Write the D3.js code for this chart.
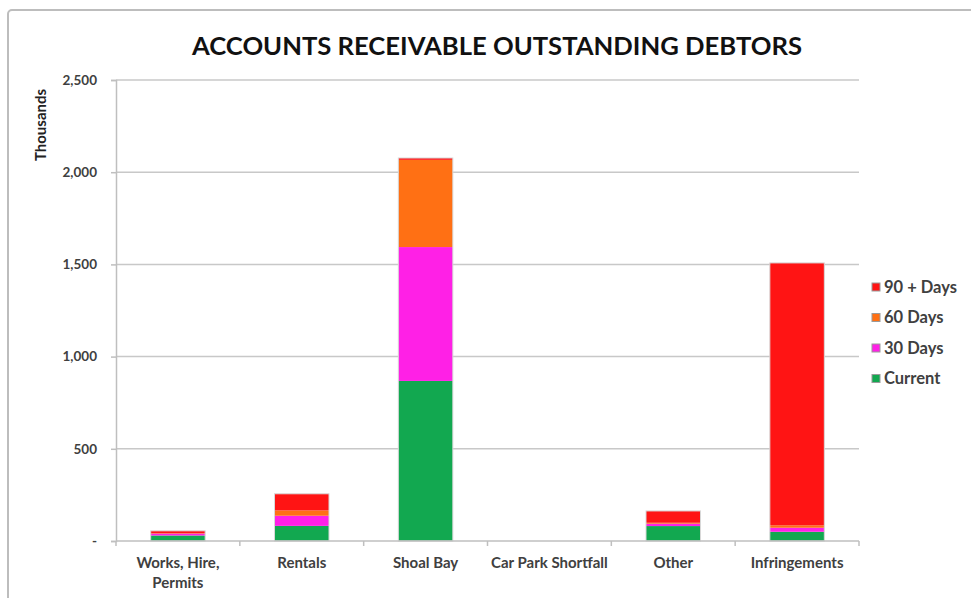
<!DOCTYPE html>
<html><head><meta charset="utf-8">
<script src="https://cdn.jsdelivr.net/npm/d3@7"></script>
<style>body{margin:0;background:#fff}svg{display:block}</style>
</head><body>
<svg id="c" width="971" height="598"></svg>
<script>
const categories = ["Works, Hire, Permits", "Rentals", "Shoal Bay", "Car Park Shortfall", "Other", "Infringements"];
const seriesNames = ["Current", "30 Days", "60 Days", "90 + Days"];
const current  = [30, 82, 868, 0, 81, 50];
const days30   = [10, 55, 726, 0, 13, 22];
const days60   = [2, 29, 473, 0, 5, 13];
const days90   = [13, 90, 10, 0, 64, 1423];
const yTicks = [0, 500, 1000, 1500, 2000, 2500];
const colors = ["#12a850", "#ff20e6", "#ff7014", "#ff1414"];
const legendColors = ["#12a850", "#ff20e6", "#ff7014", "#ff1414"];

const svg = d3.select("#c");
const FONT = "Lato, 'Open Sans', sans-serif";
// chart border
svg.append("rect").attr("x", 8).attr("y", 10).attr("width", 980).attr("height", 600)
  .attr("rx", 4).attr("fill", "none").attr("stroke", "#bdbdbd").attr("stroke-width", 2);

const m = {left: 116, right: 859, top: 80, bottom: 541};
const x = d3.scaleBand().domain(categories).range([m.left, m.right]).paddingInner(0.56).paddingOuter(0.28);
const xAxisScale = d3.scaleBand().domain(categories).range([m.left, m.right]);
const y = d3.scaleLinear().domain([0, 2500]).range([m.bottom, m.top]);

// gridlines
svg.append("g").selectAll("line").data(yTicks.slice(1)).join("line")
  .attr("x1", m.left).attr("x2", m.right).attr("y1", d => y(d)).attr("y2", d => y(d))
  .attr("stroke", "#c8c8c8").attr("stroke-width", 1.5);

// stacked bars
const rows = categories.map((c, i) => ({cat: c, "Current": current[i], "30 Days": days30[i], "60 Days": days60[i], "90 + Days": days90[i]}));
const stack = d3.stack().keys(seriesNames)(rows);
svg.append("g").selectAll("g").data(stack).join("g")
  .attr("fill", (d, i) => colors[i])
  .selectAll("rect").data(d => d).join("rect")
  .attr("x", d => x(d.data.cat)).attr("width", x.bandwidth())
  .attr("y", d => y(d[1])).attr("height", d => Math.max(0, y(d[0]) - y(d[1])));

// bar outlines
const total = r => r.Current + r["30 Days"] + r["60 Days"] + r["90 + Days"];
svg.append("g").selectAll("rect").data(rows.filter(r => total(r) > 0)).join("rect")
  .attr("x", d => x(d.cat)).attr("width", x.bandwidth())
  .attr("y", d => y(total(d))).attr("height", d => m.bottom - y(total(d)))
  .attr("fill", "none").attr("stroke", "#d8d8d8").attr("stroke-width", 1);

// y axis
const yAxis = d3.axisLeft(y).tickValues(yTicks).tickSize(5).tickPadding(14)
  .tickFormat(d => d === 0 ? "-" : d3.format(",")(d));
const gy = svg.append("g").attr("transform", `translate(${m.left},0)`).call(yAxis);
gy.select(".domain").attr("stroke", "#bfbfbf").attr("stroke-width", 1.5);
gy.selectAll(".tick line").attr("stroke", "#bfbfbf").attr("stroke-width", 1.5);
gy.selectAll(".tick text").attr("font-family", FONT).attr("font-size", 13.5)
  .attr("font-weight", "bold").attr("fill", "#404040");

// x axis
const gx = svg.append("g").attr("transform", `translate(0,${m.bottom})`);
gx.append("line").attr("x1", m.left).attr("x2", m.right).attr("stroke", "#bfbfbf").attr("stroke-width", 1.5);
const xTickPos = categories.map(c => xAxisScale(c)).concat([m.right]);
gx.selectAll("line.t").data(xTickPos).join("line").attr("class", "t")
  .attr("x1", d => d).attr("x2", d => d).attr("y1", 0).attr("y2", 5)
  .attr("stroke", "#bfbfbf").attr("stroke-width", 1.5);
const labelLines = [["Works, Hire,", "Permits"], ["Rentals"], ["Shoal Bay"], ["Car Park Shortfall"], ["Other"], ["Infringements"]];
gx.selectAll("text.cat").data(categories).join("text").attr("class", "cat")
  .attr("x", d => xAxisScale(d) + xAxisScale.bandwidth() / 2).attr("y", 27)
  .attr("text-anchor", "middle").attr("font-family", FONT)
  .attr("font-size", 15).attr("font-weight", "bold").attr("fill", "#404040")
  .each(function(d, i) {
    const t = d3.select(this);
    labelLines[i].forEach((ln, j) => t.append("tspan").attr("x", xAxisScale(d) + xAxisScale.bandwidth() / 2).attr("dy", j ? 20 : 0).text(ln));
  });

// title
svg.append("text").attr("x", 497).attr("y", 55).attr("text-anchor", "middle")
  .attr("font-family", FONT).attr("font-weight", "bold").attr("font-size", 25)
  .attr("fill", "#111").attr("textLength", 610).attr("lengthAdjust", "spacingAndGlyphs")
  .text("ACCOUNTS RECEIVABLE OUTSTANDING DEBTORS");

// y axis title
svg.append("text").attr("transform", "translate(46,125) rotate(-90)").attr("text-anchor", "middle")
  .attr("font-family", FONT).attr("font-weight", "bold").attr("font-size", 15)
  .attr("fill", "#222").text("Thousands");

// legend (reverse order, top = 90+ Days)
const legendOrder = seriesNames.map((n, i) => ({n, c: legendColors[i]})).reverse();
const lg = svg.append("g").selectAll("g").data(legendOrder).join("g")
  .attr("transform", (d, i) => `translate(872,${287 + i * 30.5})`);
lg.append("rect").attr("x", 0).attr("y", -4).attr("width", 8).attr("height", 8)
  .attr("fill", d => d.c).attr("stroke", "#9a9a9a").attr("stroke-width", 1);
lg.append("text").attr("x", 12).attr("y", 5.5).attr("font-family", FONT)
  .attr("font-size", 16.5).attr("font-weight", "bold").attr("fill", "#404040").text(d => d.n);
</script>
</body></html>
